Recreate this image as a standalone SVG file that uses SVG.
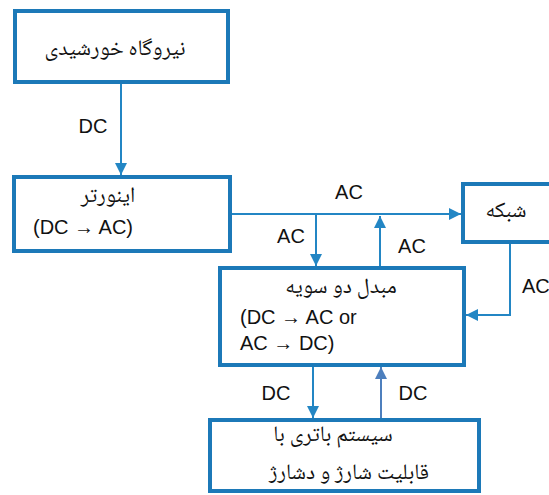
<svg xmlns="http://www.w3.org/2000/svg" width="549" height="495" viewBox="0 0 549 495">
<defs>
<style>
.box{fill:#ffffff;stroke:#1c79b8;stroke-width:4}
.con{fill:none;stroke:#2386c4;stroke-width:2}
.con2{fill:none;stroke:#4d7fbd;stroke-width:2}
.en{font-family:"Liberation Sans",Arial,sans-serif;font-size:20px;fill:#111111}
.fa{font-family:"Noto Naskh Arabic","Noto Serif Arabic","Amiri","DejaVu Sans",serif;font-size:22px;fill:#111111}
</style>
<marker id="ah" viewBox="0 0 12 12" refX="12" refY="6" markerWidth="12" markerHeight="12" markerUnits="userSpaceOnUse" orient="auto">
<path d="M0,0 L12,6 L0,12 Z" fill="#2386c4"/>
</marker>
<marker id="ah2" viewBox="0 0 12 12" refX="12" refY="6" markerWidth="12" markerHeight="12" markerUnits="userSpaceOnUse" orient="auto">
<path d="M0,0 L12,6 L0,12 Z" fill="#4d7fbd"/>
</marker>
</defs>
<rect width="549" height="495" fill="#ffffff"/>
<g id="connectors">
<line class="con" x1="121" y1="84" x2="121" y2="175" marker-end="url(#ah)"/>
<line class="con" x1="232" y1="214" x2="461" y2="214" marker-end="url(#ah)"/>
<line class="con" x1="316" y1="214" x2="316" y2="266" marker-end="url(#ah)"/>
<line class="con" x1="380" y1="266" x2="380" y2="216" marker-end="url(#ah)"/>
<path class="con" d="M510,244 V315 H466" marker-end="url(#ah)"/>
<line class="con" x1="313" y1="367" x2="313" y2="418" marker-end="url(#ah)"/>
<line class="con2" x1="381" y1="418" x2="381" y2="367" marker-end="url(#ah2)"/>
<text class="en" x="93" y="133" text-anchor="middle">DC</text>
<text class="en" x="349" y="199" text-anchor="middle">AC</text>
<text class="en" x="291" y="243" text-anchor="middle">AC</text>
<text class="en" x="412" y="253" text-anchor="middle">AC</text>
<text class="en" x="522" y="293">AC</text>
<text class="en" x="276" y="400" text-anchor="middle">DC</text>
<text class="en" x="413" y="400" text-anchor="middle">DC</text>
</g>
<g id="solar">
<rect class="box" x="15" y="11" width="213" height="71"/>
<text class="fa" x="115" y="55" text-anchor="middle">نیروگاه خورشیدی</text>
</g>
<g id="inverter">
<rect class="box" x="14" y="177" width="216" height="74"/>
<text class="fa" x="108" y="202" text-anchor="middle">اینورتر</text>
<text class="en" x="33" y="234">(DC → AC)</text>
</g>
<g id="grid">
<rect class="box" x="463" y="184" width="100" height="58"/>
<text class="fa" x="506" y="217" text-anchor="middle">شبکه</text>
</g>
<g id="converter">
<rect class="box" x="220" y="268" width="244" height="97"/>
<text class="fa" x="341" y="293" text-anchor="middle">مبدل دو سویه</text>
<text class="en" x="240" y="324">(DC → AC or</text>
<text class="en" x="240" y="350">AC → DC)</text>
</g>
<g id="battery">
<rect class="box" x="210" y="420" width="269" height="71"/>
<text class="fa" x="333" y="441" text-anchor="middle">سیستم باتری با</text>
<text class="fa" x="349" y="479" text-anchor="middle">قابلیت شارژ و دشارژ</text>
</g>
</svg>
